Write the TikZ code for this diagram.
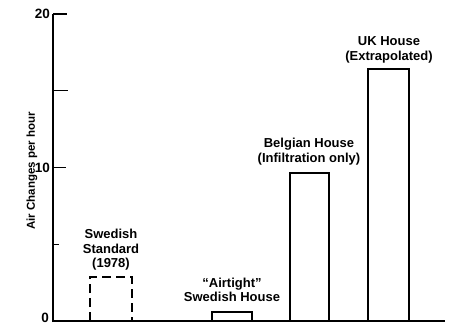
\documentclass[tikz,border=0pt]{standalone}
\usepackage{fontspec}
\setmainfont{Liberation Sans}
\usepackage{tikz}

\begin{document}
\begin{tikzpicture}[x=1pt, y=1pt,
		barlabel/.style={align=center, font=\bfseries\fontsize{13}{14.5}\selectfont, inner sep=0pt},
		ticklabel/.style={anchor=east, font=\bfseries\fontsize{13.5}{15}\selectfont, inner sep=0pt}]
		%%%%% START %%%%%
		
		\useasboundingbox (0, 0) rectangle (453, 325);
		
		% axes
		\draw[line width=1.7pt] (53, 3) -- (53, 311);
		\draw[line width=1.2pt] (52, 4) -- (445, 4);
		
		\draw[line width=1.2pt] (53, 311) -- (67, 311);
		\draw[line width=1.2pt] (53, 234.25) -- (68, 234.25);
		\draw[line width=1.2pt] (53, 157.5) -- (66, 157.5);
		\draw[line width=1.2pt] (53, 80.75) -- (59, 80.75);
		
		\node[ticklabel] (t20) at (50, 311) {20};
		\node[ticklabel] (t10) at (50, 157.5) {10};
		\node[ticklabel] (t0) at (49, 7) {0};
		
		\node[rotate=90, font=\bfseries\fontsize{11.5}{13}\selectfont] (ylab) at (32, 154) {Air Changes per hour};
		
		% bars
		\draw[line width=1.5pt, dash pattern=on 9pt off 5pt] (90, 4) -- (90, 48) -- (132, 48) -- (132, 4);
		\draw[line width=1.5pt] (212, 4) -- (212, 13) -- (252, 13) -- (252, 4);
		\draw[line width=1.5pt] (290, 4) -- (290, 152) -- (329, 152) -- (329, 4);
		\draw[line width=1.5pt] (368, 4) -- (368, 256) -- (409, 256) -- (409, 4);
		
		% labels
		\node[barlabel] (swstd) at (111, 75) {Swedish\\Standard\\(1978)};
		\node[barlabel] (airtight) at (232, 35) {``Airtight''\\Swedish House};
		\node[barlabel] (belgian) at (309, 173.5) {Belgian House\\(Infiltration only)};
		\node[barlabel] (ukhouse) at (389, 275) {UK House\\(Extrapolated)};
		
		%%%%% END %%%%%
	\end{tikzpicture}
\end{document}
